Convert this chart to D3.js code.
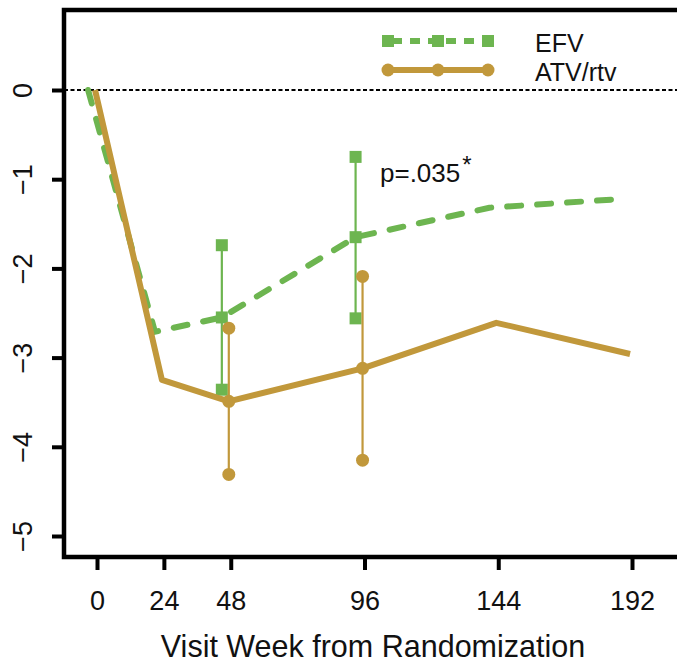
<!DOCTYPE html>
<html>
<head>
<meta charset="utf-8">
<script src="https://cdn.jsdelivr.net/npm/d3@7"></script>
<style>
  body { margin: 0; background: #fff; }
  svg { display: block; font-family: "Liberation Sans", Arial, sans-serif; }
</style>
</head>
<body>
<svg id="chart"></svg>
<script>
// data
const weeks = [0, 24, 48, 96, 144, 192];
const efvMean = [0, -2.71, -2.55, -1.65, -1.32, -1.22];
const atvMean = [0, -3.25, -3.49, -3.12, -2.61, -2.96];

const ciWeeks = [48, 96];
const efvLower = [-3.36, -2.56];
const efvUpper = [-1.74, -0.75];
const atvLower = [-4.31, -4.15];
const atvUpper = [-2.67, -2.09];

const xTicks = [0, 24, 48, 96, 144, 192];
const yTicks = [0, -1, -2, -3, -4, -5];
const seriesNames = ["EFV", "ATV/rtv"];

const width = 677, height = 663;
const green = "#6db550", gold = "#c1983b";

// plot box
const plotLeft = 64, plotTop = 10, plotBottom = 557, plotRight = width + 5;

const x = d3.scaleLinear().domain([0, 192]).range([97, 632]);
const y = d3.scaleLinear().domain([-5, 0]).range([536, 90]);

// small horizontal dodge so the two groups don't overlap
const dodgeEfv = -3.2, dodgeAtv = -0.7;

let svg = d3.select('#chart')
    .attr('width', width)
    .attr('height', height);

// reference line at 0
svg.append("line")
    .attr("x1", plotLeft).attr("x2", plotRight)
    .attr("y1", y(0)).attr("y2", y(0))
    .attr("stroke", "#000")
    .attr("stroke-width", 2)
    .attr("stroke-dasharray", "4,2.5");

// axes
let yAxis = svg.append("g")
    .attr("transform", `translate(${plotLeft},0)`)
    .call(d3.axisLeft(y).tickValues(yTicks).tickSize(12).tickFormat(d3.format("d")));
yAxis.select(".domain").remove();
yAxis.selectAll("line").attr("stroke-width", 4);
yAxis.selectAll("text")
    .attr("font-size", 27)
    .attr("fill", "#111")
    .attr("x", 0).attr("y", 0).attr("dy", 0)
    .attr("text-anchor", "middle")
    .attr("transform", "translate(-32,0) rotate(-90)");

let xAxis = svg.append("g")
    .attr("transform", `translate(0,${plotBottom})`)
    .call(d3.axisBottom(x).tickValues(xTicks).tickSize(13));
xAxis.select(".domain").remove();
xAxis.selectAll("line").attr("stroke-width", 4);
xAxis.selectAll("text")
    .attr("font-size", 27)
    .attr("fill", "#111")
    .attr("y", 53).attr("dy", 0);

// frame
svg.append("path")
    .attr("d", `M${plotRight},${plotTop}H${plotLeft}V${plotBottom}H${plotRight}`)
    .attr("fill", "none")
    .attr("stroke", "#000")
    .attr("stroke-width", 4.5);

svg.append("text")
    .attr("x", 373).attr("y", 657)
    .attr("text-anchor", "middle")
    .attr("font-size", 30.5)
    .attr("fill", "#111")
    .text("Visit Week from Randomization");

const line = d3.line();

// EFV
svg.append("path")
    .attr("d", line(weeks.map((w, i) => [x(w + dodgeEfv), y(efvMean[i])])))
    .attr("fill", "none")
    .attr("stroke", green)
    .attr("stroke-width", 6)
    .attr("stroke-linecap", "round")
    .attr("stroke-dasharray", "14,16");

const sq = 12;
ciWeeks.forEach((w, i) => {
    const cx = x(w + dodgeEfv);
    svg.append("line")
        .attr("x1", cx).attr("x2", cx)
        .attr("y1", y(efvLower[i])).attr("y2", y(efvUpper[i]))
        .attr("stroke", green).attr("stroke-width", 2.2);
    const m = efvMean[weeks.indexOf(w)];
    [efvLower[i], m, efvUpper[i]].forEach(v => {
        svg.append("rect")
            .attr("x", cx - sq / 2).attr("y", y(v) - sq / 2)
            .attr("width", sq).attr("height", sq)
            .attr("fill", green);
    });
});

// ATV/rtv
svg.append("path")
    .attr("d", line(weeks.map((w, i) => [x(w + dodgeAtv), y(atvMean[i])])))
    .attr("fill", "none")
    .attr("stroke", gold)
    .attr("stroke-width", 6)
    .attr("stroke-linejoin", "round");

ciWeeks.forEach((w, i) => {
    const cx = x(w + dodgeAtv);
    svg.append("line")
        .attr("x1", cx).attr("x2", cx)
        .attr("y1", y(atvLower[i])).attr("y2", y(atvUpper[i]))
        .attr("stroke", gold).attr("stroke-width", 2.2);
    const m = atvMean[weeks.indexOf(w)];
    [atvLower[i], m, atvUpper[i]].forEach(v => {
        svg.append("circle")
            .attr("cx", cx).attr("cy", y(v))
            .attr("r", 6.5)
            .attr("fill", gold);
    });
});

// p-value
svg.append("text")
    .attr("x", 380).attr("y", 182)
    .attr("font-size", 26)
    .attr("fill", "#111")
    .text("p=.035");
svg.append("text")
    .attr("x", 467).attr("y", 173)
    .attr("text-anchor", "middle")
    .attr("font-size", 24)
    .attr("fill", "#111")
    .text("*");

// legend
const legY = [41, 70];
const legX = [388, 438, 488];
let leg = svg.append("g");
leg.append("line")
    .attr("x1", legX[0]).attr("x2", legX[2])
    .attr("y1", legY[0]).attr("y2", legY[0])
    .attr("stroke", green).attr("stroke-width", 6)
    .attr("stroke-dasharray", "10,8")
    .attr("stroke-dashoffset", -4);
legX.forEach(lx => {
    leg.append("rect")
        .attr("x", lx - sq / 2).attr("y", legY[0] - sq / 2)
        .attr("width", sq).attr("height", sq)
        .attr("fill", green);
});
leg.append("line")
    .attr("x1", legX[0]).attr("x2", legX[2])
    .attr("y1", legY[1]).attr("y2", legY[1])
    .attr("stroke", gold).attr("stroke-width", 6);
legX.forEach(lx => {
    leg.append("circle")
        .attr("cx", lx).attr("cy", legY[1]).attr("r", 6.5)
        .attr("fill", gold);
});
seriesNames.forEach((n, i) => {
    leg.append("text")
        .attr("x", 535).attr("y", legY[i] + 11)
        .attr("font-size", 25)
        .attr("fill", "#111")
        .text(n);
});
</script>
</body>
</html>
